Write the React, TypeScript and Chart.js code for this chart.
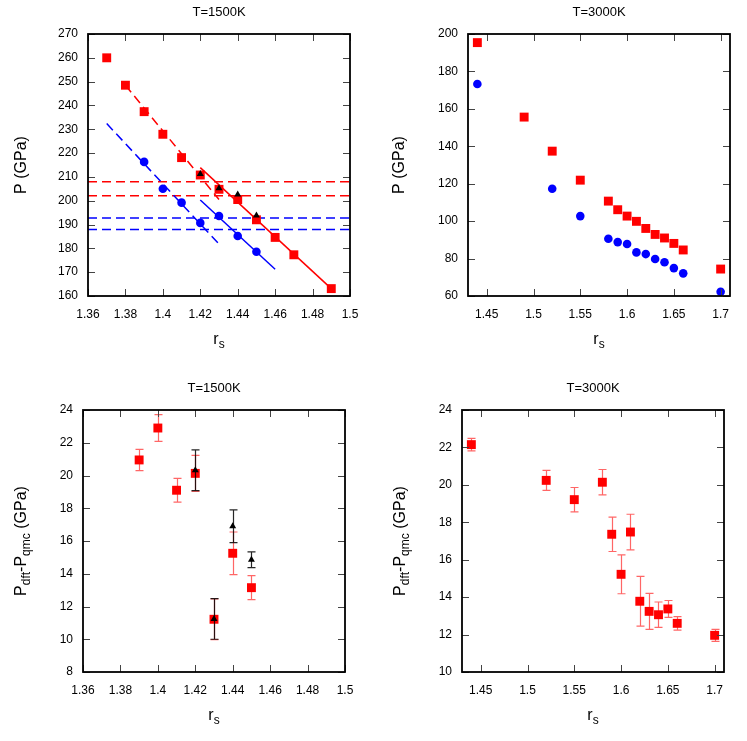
import React, { useEffect, useRef } from "react";
import { Chart, registerables } from "chart.js";
Chart.register(...registerables);

const FONT = "'Liberation Sans', Arial, Helvetica, sans-serif";
const RED = "#ff0000";
const BLUE = "#0000ff";
const BLACK = "#000000";

// ---------- Panel A: T=1500K, P vs rs ----------
const A_RED_RS = [1.37, 1.38, 1.39, 1.4, 1.41, 1.42, 1.43, 1.44, 1.45, 1.46, 1.47, 1.49];
const A_RED_P = [260, 248.5, 237.4, 227.9, 218.1, 210.8, 204.8, 200.5, 192.0, 184.6, 177.3, 163.1];
const A_BLUE_RS = [1.39, 1.4, 1.41, 1.42, 1.43, 1.44, 1.45];
const A_BLUE_P = [216.3, 205.0, 199.2, 190.7, 193.6, 185.2, 178.6];
const A_BLACK_RS = [1.42, 1.43, 1.44, 1.45];
const A_BLACK_P = [211.2, 205.2, 202.6, 193.8];
const A_RED_DASH_RS = [1.38, 1.43];
const A_RED_DASH_P = [248.5, 200.5];
const A_RED_SOLID_RS = [1.42, 1.49];
const A_RED_SOLID_P = [213.9, 163.1];
const A_BLUE_DASH_RS = [1.37, 1.43];
const A_BLUE_DASH_P = [232.4, 181.8];
const A_BLUE_SOLID_RS = [1.42, 1.46];
const A_BLUE_SOLID_P = [200.3, 171.2];
const A_RED_HLINES = [208.0, 202.1];
const A_BLUE_HLINES = [192.7, 187.9];
const A_X_TICKS = [1.36, 1.38, 1.4, 1.42, 1.44, 1.46, 1.48, 1.5];
const A_Y_TICKS = [160, 170, 180, 190, 200, 210, 220, 230, 240, 250, 260, 270];

// ---------- Panel B: T=3000K, P vs rs ----------
const B_RED_RS = [1.44, 1.49, 1.52, 1.55, 1.58, 1.59, 1.6, 1.61, 1.62, 1.63, 1.64, 1.65, 1.66, 1.7];
const B_RED_P = [195.4, 155.6, 137.4, 121.9, 110.7, 106.1, 102.7, 99.9, 96.1, 92.9, 91.0, 88.1, 84.6, 74.4];
const B_BLUE_RS = [1.44, 1.52, 1.55, 1.58, 1.59, 1.6, 1.61, 1.62, 1.63, 1.64, 1.65, 1.66, 1.7];
const B_BLUE_P = [173.3, 117.3, 102.7, 90.6, 88.8, 87.8, 83.3, 82.4, 79.8, 78.0, 74.9, 72.1, 62.3];
const B_X_TICKS = [1.45, 1.5, 1.55, 1.6, 1.65, 1.7];
const B_Y_TICKS = [60, 80, 100, 120, 140, 160, 180, 200];

// ---------- Panel C: T=1500K, Pdft - Pqmc ----------
const C_RED_RS = [1.39, 1.4, 1.41, 1.42, 1.43, 1.44, 1.45];
const C_RED_DP = [20.95, 22.9, 19.1, 20.13, 11.22, 15.25, 13.15];
const C_RED_ERR = [0.65, 0.82, 0.72, 1.1, 1.24, 1.3, 0.73];
const C_BLACK_RS = [1.42, 1.43, 1.44, 1.45];
const C_BLACK_DP = [20.32, 11.24, 16.9, 14.85];
const C_BLACK_ERR = [1.24, 1.24, 1.0, 0.48];
const C_X_TICKS = [1.36, 1.38, 1.4, 1.42, 1.44, 1.46, 1.48, 1.5];
const C_Y_TICKS = [8, 10, 12, 14, 16, 18, 20, 22, 24];

// ---------- Panel D: T=3000K, Pdft - Pqmc ----------
const D_RED_RS = [1.44, 1.52, 1.55, 1.58, 1.59, 1.6, 1.61, 1.62, 1.63, 1.64, 1.65, 1.66, 1.7];
const D_RED_DP = [22.15, 20.24, 19.21, 20.14, 17.36, 15.22, 17.48, 13.78, 13.24, 13.06, 13.37, 12.6, 11.96];
const D_RED_ERR = [0.33, 0.53, 0.65, 0.68, 0.92, 1.04, 0.95, 1.33, 0.96, 0.68, 0.45, 0.36, 0.32];
const D_X_TICKS = [1.45, 1.5, 1.55, 1.6, 1.65, 1.7];
const D_Y_TICKS = [10, 12, 14, 16, 18, 20, 22, 24];

type Seg = { t: string; sub?: boolean };

const zip = (xs: number[], ys: number[]) => xs.map((x, i) => ({ x, y: ys[i] }));
const fmt = (v: number) => String(Math.round(v * 1000) / 1000);

function drawRich(ctx: CanvasRenderingContext2D, segs: Seg[], x: number, y: number, size: number, rotate: boolean) {
  ctx.save();
  ctx.translate(x, y);
  if (rotate) ctx.rotate(-Math.PI / 2);
  const subSize = Math.round(size * 0.72);
  let total = 0;
  const widths: number[] = [];
  for (const s of segs) {
    ctx.font = `${s.sub ? subSize : size}px ${FONT}`;
    const w = ctx.measureText(s.t).width;
    widths.push(w);
    total += w;
  }
  let cx = -total / 2;
  ctx.textAlign = "left";
  ctx.textBaseline = "alphabetic";
  ctx.fillStyle = "#000";
  segs.forEach((s, i) => {
    ctx.font = `${s.sub ? subSize : size}px ${FONT}`;
    ctx.fillText(s.t, cx, s.sub ? size * 0.28 : 0);
    cx += widths[i];
  });
  ctx.restore();
}

const decoPlugin = {
  id: "deco",
  beforeDatasetDraw(chart: any, args: any) {
    const ds = chart.data.datasets[args.index];
    if (!ds.errors) return;
    const ctx: CanvasRenderingContext2D = chart.ctx;
    const ys = chart.scales.y;
    ctx.save();
    ctx.strokeStyle = ds.errorColor;
    ctx.lineWidth = 1.2;
    args.meta.data.forEach((pt: any, i: number) => {
      const v = ds.data[i].y;
      const e = ds.errors[i];
      const px = Math.round(pt.x) + 0.5;
      const y1 = ys.getPixelForValue(v + e);
      const y2 = ys.getPixelForValue(v - e);
      ctx.beginPath();
      ctx.moveTo(px, y1);
      ctx.lineTo(px, y2);
      ctx.moveTo(px - 4, y1);
      ctx.lineTo(px + 4, y1);
      ctx.moveTo(px - 4, y2);
      ctx.lineTo(px + 4, y2);
      ctx.stroke();
    });
    ctx.restore();
  },
  afterDraw(chart: any, _args: any, opts: any) {
    const ctx: CanvasRenderingContext2D = chart.ctx;
    const a = chart.chartArea;
    const xs = chart.scales.x;
    const ys = chart.scales.y;
    const tl = 7;
    ctx.save();
    ctx.strokeStyle = "#444";
    ctx.lineWidth = 1;
    ctx.beginPath();
    xs.ticks.forEach((t: any) => {
      const px = Math.round(xs.getPixelForValue(t.value)) + 0.5;
      ctx.moveTo(px, a.bottom);
      ctx.lineTo(px, a.bottom - tl);
      ctx.moveTo(px, a.top);
      ctx.lineTo(px, a.top + tl);
    });
    ys.ticks.forEach((t: any) => {
      const py = Math.round(ys.getPixelForValue(t.value)) + 0.5;
      ctx.moveTo(a.left, py);
      ctx.lineTo(a.left + tl, py);
      ctx.moveTo(a.right, py);
      ctx.lineTo(a.right - tl, py);
    });
    ctx.stroke();
    ctx.strokeStyle = "#000";
    ctx.lineWidth = 1.8;
    ctx.strokeRect(a.left, a.top, a.right - a.left, a.bottom - a.top);
    ctx.restore();

    const cx = (a.left + a.right) / 2;
    const cy = (a.top + a.bottom) / 2;
    drawRich(ctx, [{ t: opts.title }], cx, a.top - 18, 13, false);
    drawRich(ctx, opts.yTitle, opts.yTitleX, cy, 16, true);
    drawRich(ctx, [{ t: "r" }, { t: "s", sub: true }], cx, a.bottom + 48, 16, false);
  },
};

type Area = { left: number; top: number; right: number; bottom: number };

function makeConfig(
  width: number,
  height: number,
  area: Area,
  xr: [number, number],
  yr: [number, number],
  xTicks: number[],
  yTicks: number[],
  datasets: any[],
  deco: any
) {
  const tickFont = { family: FONT, size: 12 };
  return {
    type: "scatter" as const,
    data: { datasets },
    options: {
      responsive: false,
      animation: false as const,
      devicePixelRatio: 1,
      layout: { padding: { left: 0, top: area.top, right: width - area.right, bottom: 0 } },
      plugins: {
        legend: { display: false },
        tooltip: { enabled: false },
        title: { display: false },
        deco,
      },
      scales: {
        x: {
          type: "linear" as const,
          min: xr[0],
          max: xr[1],
          grid: { display: false, drawTicks: false },
          border: { display: false },
          ticks: { font: tickFont, color: "#000", padding: 11, maxRotation: 0, autoSkip: false, callback: (v: any) => fmt(Number(v)) },
          afterBuildTicks: (s: any) => {
            s.ticks = xTicks.map((v) => ({ value: v }));
          },
          afterFit: (s: any) => {
            s.height = height - area.bottom;
          },
        },
        y: {
          type: "linear" as const,
          min: yr[0],
          max: yr[1],
          grid: { display: false, drawTicks: false },
          border: { display: false },
          ticks: { font: tickFont, color: "#000", padding: 10, autoSkip: false, callback: (v: any) => fmt(Number(v)) },
          afterBuildTicks: (s: any) => {
            s.ticks = yTicks.map((v) => ({ value: v }));
          },
          afterFit: (s: any) => {
            s.width = area.left;
          },
        },
      },
    },
    plugins: [decoPlugin],
  };
}

const pts = (data: any[], color: string, style: string, radius: number, extra: any = {}) => ({
  data,
  showLine: false,
  pointStyle: style,
  pointRadius: radius,
  pointHoverRadius: radius,
  pointBackgroundColor: color,
  pointBorderColor: color,
  pointBorderWidth: 0,
  ...extra,
});

const line = (xs: number[], ys: number[], color: string, dashed: boolean) => ({
  data: zip(xs, ys),
  showLine: true,
  pointRadius: 0,
  borderColor: color,
  borderWidth: 1.5,
  borderDash: dashed ? [9, 5] : [],
  fill: false,
});

const P_TITLE: Seg[] = [{ t: "P (GPa)" }];
const DP_TITLE: Seg[] = [{ t: "P" }, { t: "dft", sub: true }, { t: "-P" }, { t: "qmc", sub: true }, { t: " (GPa)" }];

function configA() {
  const datasets = [
    pts(zip(A_BLACK_RS, A_BLACK_P), BLACK, "triangle", 4),
    pts(zip(A_BLUE_RS, A_BLUE_P), BLUE, "circle", 4.3),
    pts(zip(A_RED_RS, A_RED_P), RED, "rect", 6.3),
    line(A_RED_DASH_RS, A_RED_DASH_P, RED, true),
    line(A_RED_SOLID_RS, A_RED_SOLID_P, RED, false),
    line(A_BLUE_DASH_RS, A_BLUE_DASH_P, BLUE, true),
    line(A_BLUE_SOLID_RS, A_BLUE_SOLID_P, BLUE, false),
    ...A_RED_HLINES.map((p) => line([A_X_TICKS[0], A_X_TICKS[A_X_TICKS.length - 1]], [p, p], RED, true)),
    ...A_BLUE_HLINES.map((p) => line([A_X_TICKS[0], A_X_TICKS[A_X_TICKS.length - 1]], [p, p], BLUE, true)),
  ];
  return makeConfig(373, 365, { left: 88, top: 34, right: 350, bottom: 296 }, [1.36, 1.5], [160, 270], A_X_TICKS, A_Y_TICKS, datasets, {
    title: "T=1500K",
    yTitle: P_TITLE,
    yTitleX: 25.5,
  });
}

function configB() {
  const datasets = [
    pts(zip(B_BLUE_RS, B_BLUE_P), BLUE, "circle", 4.3),
    pts(zip(B_RED_RS, B_RED_P), RED, "rect", 6.3),
  ];
  return makeConfig(374, 365, { left: 95, top: 34, right: 357, bottom: 296 }, [1.43, 1.71], [60, 200], B_X_TICKS, B_Y_TICKS, datasets, {
    title: "T=3000K",
    yTitle: P_TITLE,
    yTitleX: 31,
  });
}

function configC() {
  const datasets = [
    pts(zip(C_BLACK_RS, C_BLACK_DP), BLACK, "triangle", 4, { errors: C_BLACK_ERR, errorColor: "rgba(0,0,0,0.85)" }),
    pts(zip(C_RED_RS, C_RED_DP), RED, "rect", 6.3, { errors: C_RED_ERR, errorColor: "rgba(255,0,0,0.6)" }),
  ];
  return makeConfig(373, 376, { left: 83, top: 45, right: 345, bottom: 307 }, [1.36, 1.5], [8, 24], C_X_TICKS, C_Y_TICKS, datasets, {
    title: "T=1500K",
    yTitle: DP_TITLE,
    yTitleX: 25.5,
  });
}

function configD() {
  const datasets = [pts(zip(D_RED_RS, D_RED_DP), RED, "rect", 6.3, { errors: D_RED_ERR, errorColor: "rgba(255,0,0,0.6)" })];
  return makeConfig(374, 376, { left: 89, top: 45, right: 351, bottom: 307 }, [1.43, 1.71], [10, 24], D_X_TICKS, D_Y_TICKS, datasets, {
    title: "T=3000K",
    yTitle: DP_TITLE,
    yTitleX: 32,
  });
}

function Panel(props: { make: () => any; left: number; top: number; width: number; height: number }) {
  const ref = useRef<HTMLCanvasElement>(null);
  useEffect(() => {
    const chart = new Chart(ref.current as HTMLCanvasElement, props.make());
    return () => chart.destroy();
  }, []);
  return (
    <canvas
      ref={ref}
      width={props.width}
      height={props.height}
      style={{ position: "absolute", left: props.left, top: props.top, width: props.width, height: props.height }}
    />
  );
}

export default function App() {
  return (
    <div style={{ position: "absolute", left: 0, top: 0, width: 747, height: 741, background: "#fff" }}>
      <Panel make={configA} left={0} top={0} width={373} height={365} />
      <Panel make={configB} left={373} top={0} width={374} height={365} />
      <Panel make={configC} left={0} top={365} width={373} height={376} />
      <Panel make={configD} left={373} top={365} width={374} height={376} />
    </div>
  );
}
